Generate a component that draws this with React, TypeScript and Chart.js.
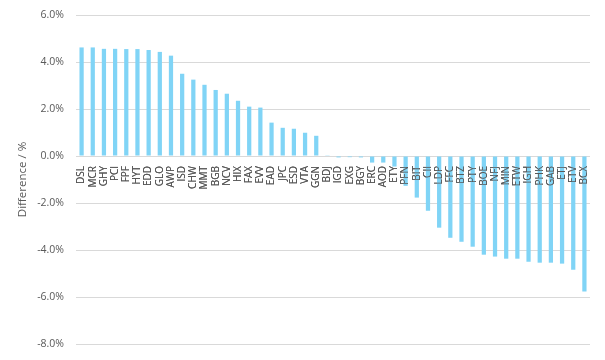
import React, { useEffect, useRef } from "react";
import { Chart, registerables } from "chart.js";

Chart.register(...registerables);

const categories = [
  "DSL", "MCR", "GHY", "PCI", "FPF", "HYT", "EDD", "GLO", "AWP", "ISD",
  "CHW", "MMT", "BGB", "NCV", "HIX", "FAX", "EVV", "EAD", "JPC", "ESD",
  "VTA", "GGN", "BDJ", "IGD", "EXG", "BGY", "ERC", "AOD", "ETY", "PFN",
  "BIT", "CII", "LDP", "FFC", "BTZ", "PTY", "BOE", "NFJ", "MIN", "ETW",
  "IGH", "PHK", "GAB", "ETJ", "ETV", "BCX",
];

const differences = [
  4.62, 4.62, 4.56, 4.56, 4.55, 4.55, 4.51, 4.43, 4.27, 3.5,
  3.25, 3.03, 2.81, 2.65, 2.35, 2.1, 2.06, 1.42, 1.2, 1.16,
  0.99, 0.86, 0.01, -0.06, -0.05, -0.06, -0.28, -0.28, -0.45, -1.27,
  -1.77, -2.33, -3.05, -3.48, -3.65, -3.86, -4.2, -4.28, -4.37, -4.37,
  -4.5, -4.54, -4.54, -4.58, -4.84, -5.77,
];

const yTicks = { min: -8, max: 6, step: 2 };

const labelsOnTop = {
  id: "labelsOnTop",
  afterDatasetsDraw(chart: any) {
    const x = chart.scales.x;
    x.draw(chart.chartArea);
  },
};

export default function App() {
  const ref = useRef<HTMLCanvasElement>(null);
  useEffect(() => {
    document.body.style.margin = "0";
    const font = "'Open Sans', 'Liberation Sans', sans-serif";
    const chart = new Chart(ref.current!, {
      type: "bar",
      data: {
        labels: categories,
        datasets: [
          {
            data: differences,
            backgroundColor: "#80d4f6",
            barPercentage: 0.38,
            categoryPercentage: 1,
          },
        ],
      },
      plugins: [labelsOnTop],
      options: {
        animation: false,
        responsive: false,
        layout: { padding: { top: 15, right: 15, left: 4, bottom: 16 } },
        plugins: { legend: { display: false }, tooltip: { enabled: false } },
        scales: {
          x: {
            position: { y: 0 },
            grid: { display: false },
            border: { display: false },
            ticks: {
              minRotation: 90,
              maxRotation: 90,
              autoSkip: false,
              padding: 2,
              color: "#595959",
              font: { family: font, size: 10 },
            },
          },
          y: {
            min: yTicks.min,
            max: yTicks.max,
            afterFit: (s: any) => {
              s.width = 72;
            },
            grid: {
              color: "#d9d9d9",
              drawTicks: true,
              tickLength: 4,
              tickColor: "rgba(0,0,0,0)",
            },
            border: { display: false },
            ticks: {
              stepSize: yTicks.step,
              color: "#595959",
              padding: 8,
              font: { family: font, size: 10.5 },
              callback: (v: any) => Number(v).toFixed(1) + "%",
            },
            title: {
              display: true,
              text: "Difference / %",
              color: "#595959",
              font: { family: font, size: 11.5 },
              padding: { top: 12, bottom: 4 },
            },
          },
        },
      },
    });
    return () => chart.destroy();
  }, []);
  return <canvas ref={ref} width={605} height={360} style={{ display: "block" }} />;
}
